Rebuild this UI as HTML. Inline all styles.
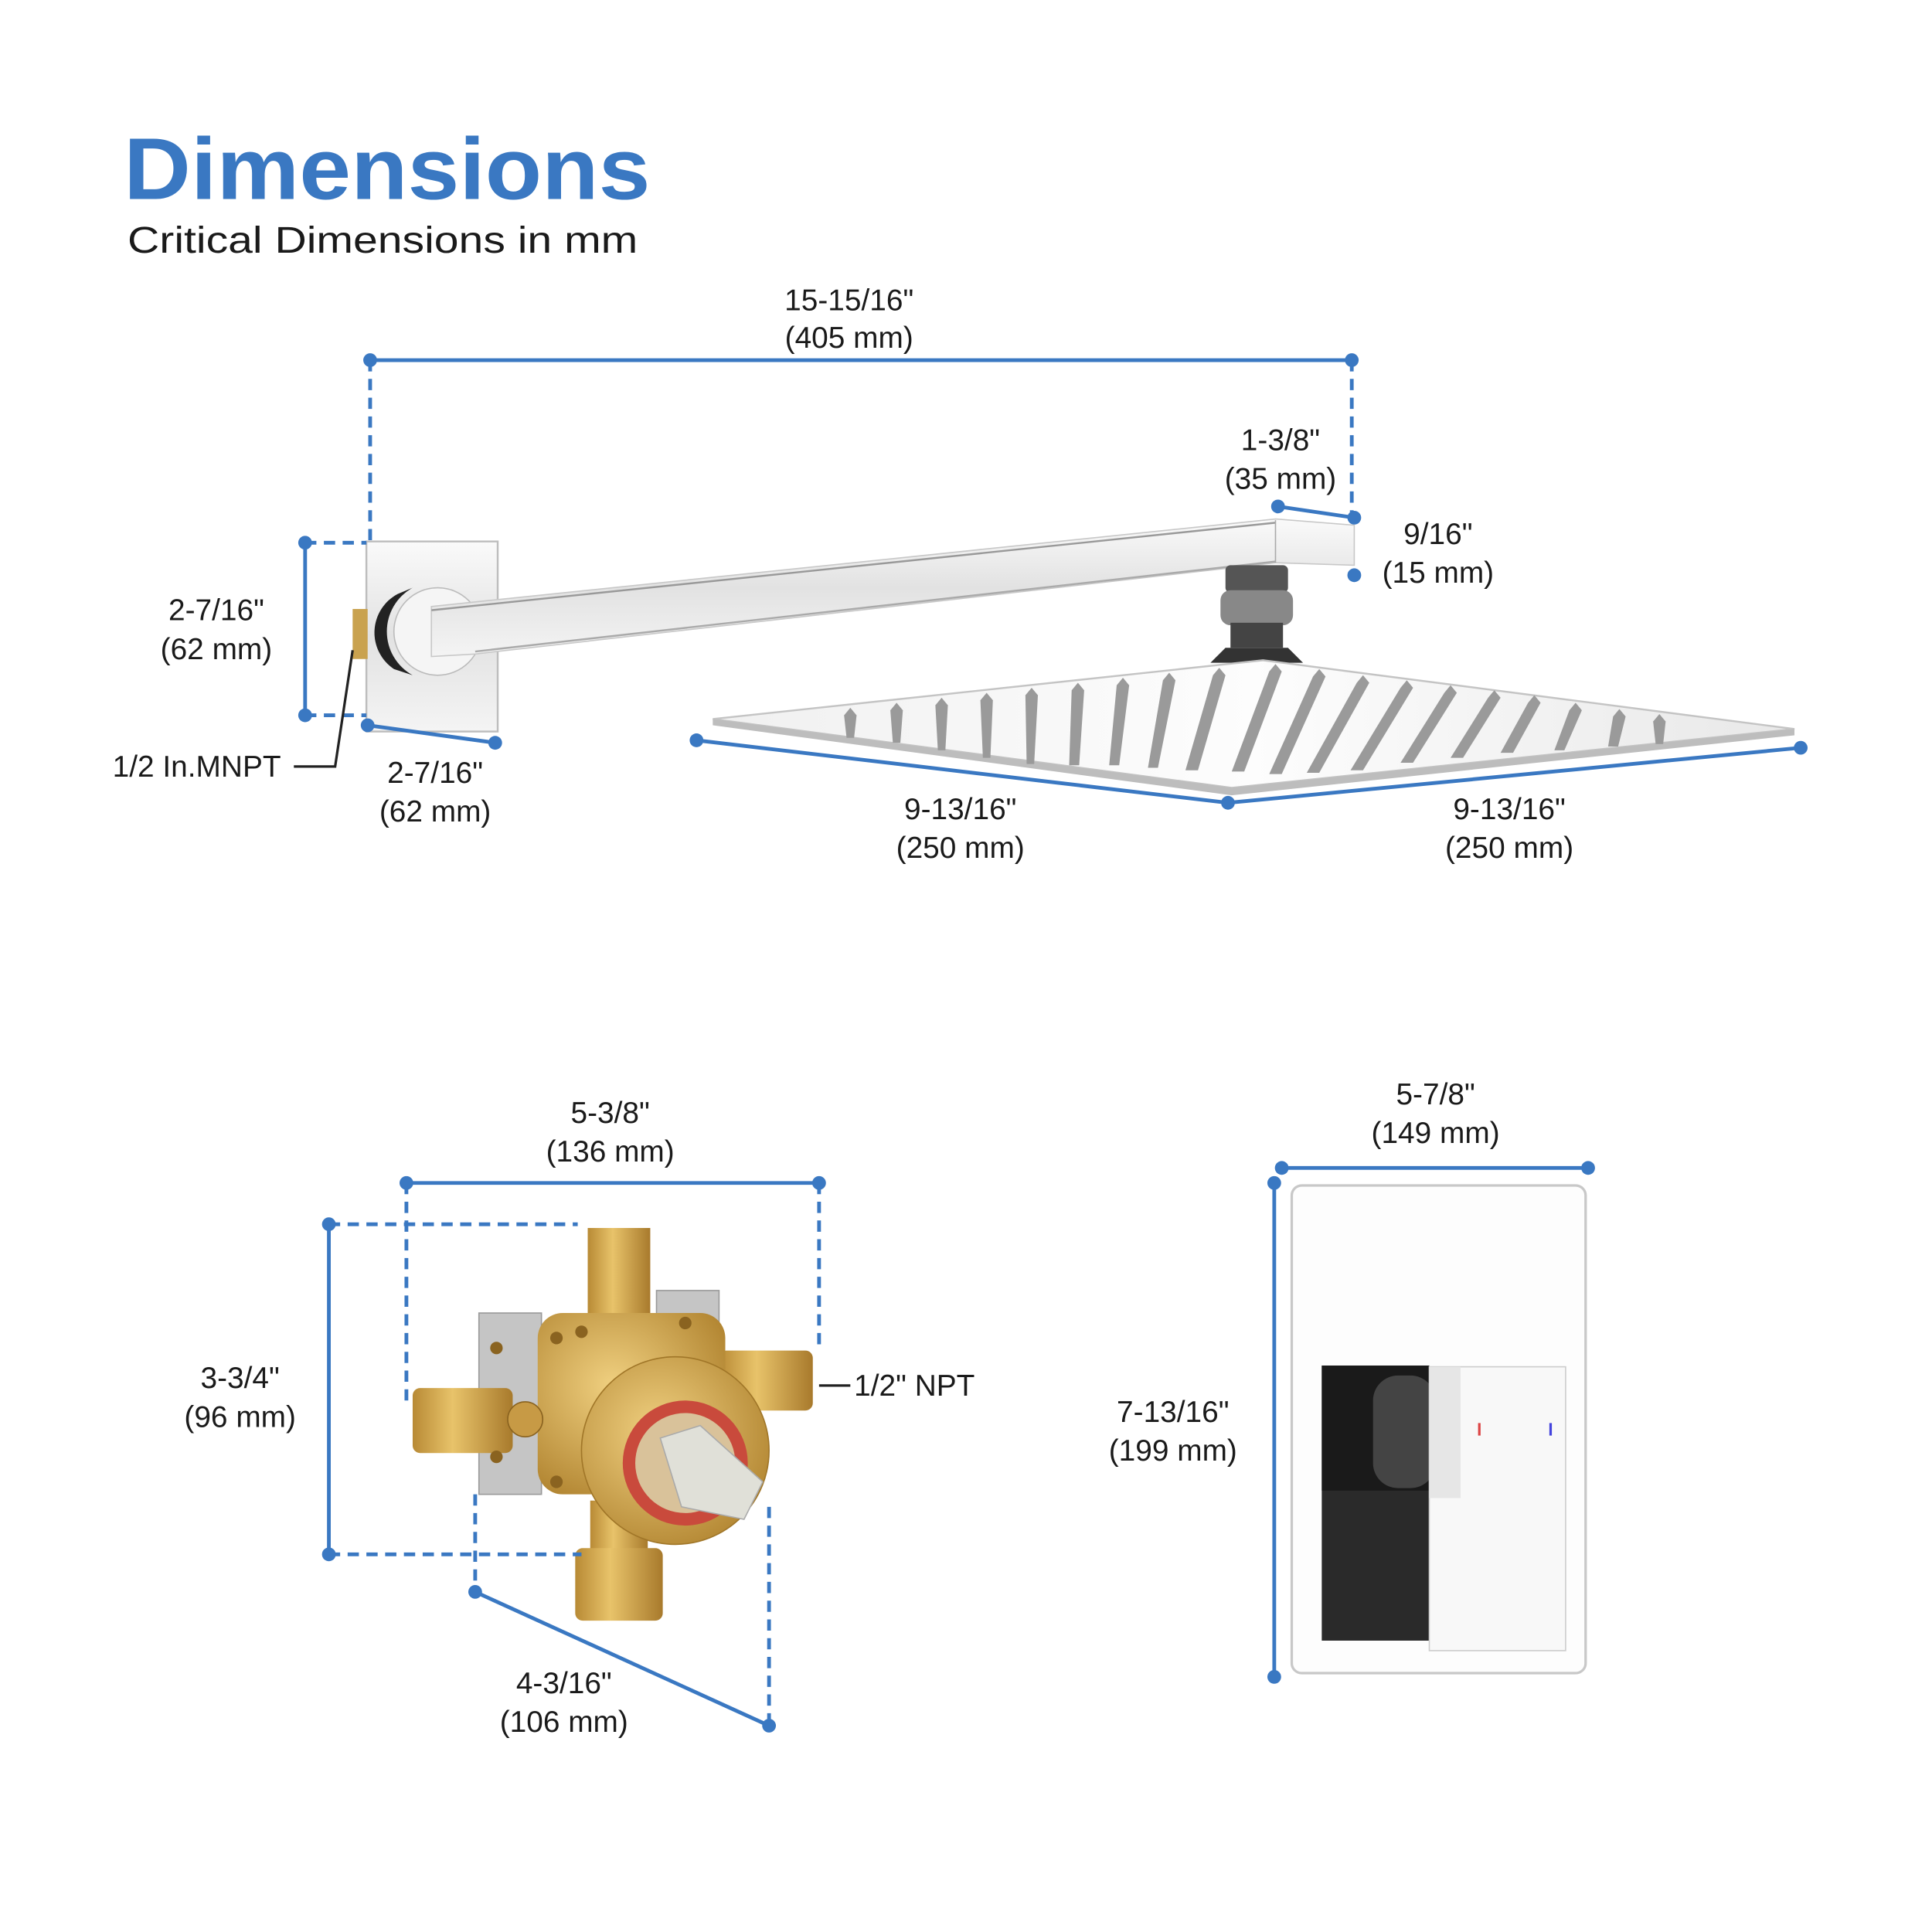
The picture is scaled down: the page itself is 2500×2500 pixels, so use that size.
<!DOCTYPE html>
<html><head><meta charset="utf-8"><style>
html,body{margin:0;padding:0;background:#fff;}
svg{display:block;}
text{font-family:"Liberation Sans",sans-serif;fill:#1a1a1a;}
</style></head><body>
<svg width="2500" height="2500" viewBox="0 0 1545 1545" xmlns="http://www.w3.org/2000/svg">
<defs>
<linearGradient id="chrome" x1="0" y1="0" x2="0" y2="1"><stop offset="0" stop-color="#fafafa"/><stop offset="0.5" stop-color="#e2e2e2"/><stop offset="1" stop-color="#f4f4f4"/></linearGradient>
<linearGradient id="head" x1="0" y1="0" x2="1" y2="0"><stop offset="0" stop-color="#f0f0f0"/><stop offset="0.5" stop-color="#fdfdfd"/><stop offset="1" stop-color="#e8e8e8"/></linearGradient>
<linearGradient id="brass" x1="0" y1="0" x2="1" y2="0"><stop offset="0" stop-color="#b88a35"/><stop offset="0.4" stop-color="#e8c36a"/><stop offset="1" stop-color="#a87a2c"/></linearGradient>
<radialGradient id="brassR" cx="0.4" cy="0.4" r="0.7"><stop offset="0" stop-color="#f0d080"/><stop offset="1" stop-color="#b0832f"/></radialGradient>
</defs>

<text x="99" y="159" font-size="70" font-weight="bold" textLength="421" lengthAdjust="spacingAndGlyphs" style="fill:#3a78c2">Dimensions</text>
<text x="102" y="202" font-size="30" textLength="408" lengthAdjust="spacingAndGlyphs">Critical Dimensions in mm</text>

<rect x="293" y="433" width="105" height="152" fill="url(#chrome)" stroke="#bdbdbd" stroke-width="1.5"/>
<circle cx="350" cy="505" r="35" fill="#f5f5f5" stroke="#bbb"/>
<path d="M330,470 A40,40 0 0 0 330,540 L315,535 A35,35 0 0 1 318,475 Z" fill="#222"/>
<rect x="282" y="487" width="12" height="40" fill="#c9a24f"/>
<polygon points="345,485 1020,415 1083,420 1083,452 1020,450 380,523 345,525" fill="url(#chrome)" stroke="#c8c8c8" stroke-width="1"/>
<line x1="345" y1="488" x2="1020" y2="418" stroke="#999" stroke-width="1.5"/>
<line x1="380" y1="521" x2="1020" y2="449" stroke="#aaa" stroke-width="1.5"/>
<line x1="1020" y1="416" x2="1020" y2="450" stroke="#aaa"/>
<rect x="980" y="452" width="50" height="22" rx="4" fill="#555"/>
<rect x="976" y="472" width="58" height="28" rx="8" fill="#888"/>
<rect x="984" y="498" width="42" height="20" fill="#444"/>
<polygon points="968,530 1042,530 1030,518 980,518" fill="#333"/>
<polygon points="570,575 1010,528 1435,583 985,630" fill="url(#head)" stroke="#c4c4c4" stroke-width="1.5"/>
<polygon points="570,575 985,630 1435,583 1435,588 985,636 570,580" fill="#bdbdbd"/>
<g fill="#9a9a9a">
<path d="M675,572 l5,-6 l5,6 l-2,18 h-6z"/>
<path d="M712,568 l5,-6 l5,6 l-2,26 h-6z"/>
<path d="M748,564 l5,-6 l5,6 l-2,36 h-6z"/>
<path d="M784,560 l5,-6 l5,6 l-2,46 h-6z"/>
<path d="M820,556 l5,-6 l5,6 l-3,55 h-6z"/>
<path d="M857,552 l5,-6 l5,6 l-4,60 h-8z"/>
<path d="M893,548 l5,-6 l5,6 l-8,64 h-8z"/>
<path d="M930,544 l5,-6 l5,6 l-14,70 h-8z"/>
<path d="M970,540 l5,-6 l5,6 l-22,76 h-10z"/>
<path d="M1015,537 l5,-6 l5,6 l-30,80 h-10z"/>
<path d="M1050,541 l5,-6 l5,6 l-35,78 h-10z"/>
<path d="M1085,546 l5,-6 l5,6 l-40,72 h-10z"/>
<path d="M1120,550 l5,-6 l5,6 l-40,66 h-10z"/>
<path d="M1155,554 l5,-6 l5,6 l-35,56 h-10z"/>
<path d="M1190,558 l5,-6 l5,6 l-30,48 h-10z"/>
<path d="M1222,562 l5,-6 l5,6 l-22,40 h-10z"/>
<path d="M1255,568 l5,-6 l5,6 l-14,32 h-8z"/>
<path d="M1290,573 l5,-6 l5,6 l-6,24 h-8z"/>
<path d="M1322,577 l5,-6 l5,6 l-2,18 h-6z"/>
</g>

<g stroke="#3a78c2" stroke-width="3" fill="none">
<line x1="296" y1="288" x2="1081" y2="288"/>
<line x1="296" y1="288" x2="296" y2="435" stroke-dasharray="9,6"/>
<line x1="1081" y1="288" x2="1081" y2="410" stroke-dasharray="9,6"/>
<line x1="244" y1="434" x2="244" y2="572"/>
<line x1="244" y1="434" x2="293" y2="434" stroke-dasharray="9,6"/>
<line x1="244" y1="572" x2="293" y2="572" stroke-dasharray="9,6"/>
<line x1="294" y1="580" x2="396" y2="594"/>
<line x1="1022" y1="405" x2="1083" y2="414"/>
<polyline points="557,592 982,642 1440,598"/>
</g>
<g fill="#3a78c2">
<circle cx="296" cy="288" r="5.5"/><circle cx="1081" cy="288" r="5.5"/>
<circle cx="244" cy="434" r="5.5"/><circle cx="244" cy="572" r="5.5"/>
<circle cx="294" cy="580" r="5.5"/><circle cx="396" cy="594" r="5.5"/>
<circle cx="1022" cy="405" r="5.5"/><circle cx="1083" cy="414" r="5.5"/><circle cx="1083" cy="460" r="5.5"/>
<circle cx="557" cy="592" r="5.5"/><circle cx="982" cy="642" r="5.5"/><circle cx="1440" cy="598" r="5.5"/>
</g>
<polyline points="235,613 268,613 282,520" stroke="#222" stroke-width="2" fill="none"/>
<g font-size="24" text-anchor="middle">
<text x="679" y="248">15-15/16"</text><text x="679" y="278">(405 mm)</text>
<text x="173" y="496">2-7/16"</text><text x="173" y="527">(62 mm)</text>
<text x="348" y="626">2-7/16"</text><text x="348" y="657">(62 mm)</text>
<text x="1024" y="360">1-3/8"</text><text x="1024" y="391">(35 mm)</text>
<text x="1150" y="435">9/16"</text><text x="1150" y="466">(15 mm)</text>
<text x="768" y="655">9-13/16"</text><text x="768" y="686">(250 mm)</text>
<text x="1207" y="655">9-13/16"</text><text x="1207" y="686">(250 mm)</text>
<text x="488" y="898">5-3/8"</text><text x="488" y="929">(136 mm)</text>
<text x="192" y="1110">3-3/4"</text><text x="192" y="1141">(96 mm)</text>
<text x="451" y="1354">4-3/16"</text><text x="451" y="1385">(106 mm)</text>
<text x="1148" y="883">5-7/8"</text><text x="1148" y="914">(149 mm)</text>
<text x="938" y="1137">7-13/16"</text><text x="938" y="1168">(199 mm)</text>
</g>
<text x="90" y="621" font-size="24">1/2 In.MNPT</text>

<rect x="383" y="1050" width="50" height="145" fill="#c5c5c5" stroke="#999"/>
<rect x="525" y="1032" width="50" height="100" fill="#c5c5c5" stroke="#999"/>
<rect x="470" y="982" width="50" height="80" fill="url(#brass)"/>
<rect x="330" y="1110" width="80" height="52" rx="6" fill="url(#brass)"/>
<rect x="575" y="1080" width="75" height="48" rx="6" fill="url(#brass)"/>
<rect x="430" y="1050" width="150" height="145" rx="20" fill="url(#brassR)"/>
<rect x="472" y="1200" width="46" height="40" fill="url(#brass)"/>
<rect x="460" y="1238" width="70" height="58" rx="6" fill="url(#brass)"/>
<circle cx="540" cy="1160" r="75" fill="url(#brassR)" stroke="#a07628"/>
<circle cx="548" cy="1170" r="50" fill="#c94a3c"/>
<circle cx="548" cy="1170" r="40" fill="#d9c29a"/>
<polygon points="528,1150 560,1140 610,1185 595,1215 545,1205" fill="#e0e0d8" stroke="#aaa"/>
<circle cx="420" cy="1135" r="14" fill="#c79a45" stroke="#8a6320"/>
<g fill="#8a6320"><circle cx="445" cy="1070" r="5"/><circle cx="465" cy="1065" r="5"/><circle cx="445" cy="1185" r="5"/><circle cx="548" cy="1058" r="5"/><circle cx="397" cy="1078" r="5"/><circle cx="397" cy="1165" r="5"/></g>

<g stroke="#3a78c2" stroke-width="3" fill="none">
<line x1="325" y1="946" x2="655" y2="946"/>
<line x1="325" y1="946" x2="325" y2="1120" stroke-dasharray="9,6"/>
<line x1="655" y1="946" x2="655" y2="1075" stroke-dasharray="9,6"/>
<line x1="263" y1="979" x2="263" y2="1243"/>
<line x1="263" y1="979" x2="462" y2="979" stroke-dasharray="9,6"/>
<line x1="263" y1="1243" x2="465" y2="1243" stroke-dasharray="9,6"/>
<line x1="380" y1="1195" x2="380" y2="1273" stroke-dasharray="9,6"/>
<line x1="615" y1="1205" x2="615" y2="1380" stroke-dasharray="9,6"/>
<line x1="380" y1="1273" x2="615" y2="1380"/>
<line x1="1025" y1="934" x2="1270" y2="934"/>
<line x1="1019" y1="946" x2="1019" y2="1341"/>
</g>
<g fill="#3a78c2">
<circle cx="325" cy="946" r="5.5"/><circle cx="655" cy="946" r="5.5"/>
<circle cx="263" cy="979" r="5.5"/><circle cx="263" cy="1243" r="5.5"/>
<circle cx="380" cy="1273" r="5.5"/><circle cx="615" cy="1380" r="5.5"/>
<circle cx="1025" cy="934" r="5.5"/><circle cx="1270" cy="934" r="5.5"/>
<circle cx="1019" cy="946" r="5.5"/><circle cx="1019" cy="1341" r="5.5"/>
</g>
<line x1="655" y1="1108" x2="680" y2="1108" stroke="#222" stroke-width="2"/>
<text x="683" y="1116" font-size="24">1/2" NPT</text>

<rect x="1033" y="948" width="235" height="390" rx="8" fill="#fdfdfd" stroke="#c8c8c8" stroke-width="2"/>
<rect x="1057" y="1092" width="86" height="220" fill="#2a2a2a"/>
<rect x="1057" y="1092" width="86" height="100" fill="#1a1a1a"/>
<rect x="1098" y="1100" width="50" height="90" rx="20" fill="#444"/>
<rect x="1143" y="1093" width="109" height="227" fill="#f8f8f8" stroke="#ccc"/>
<polygon points="1143,1093 1168,1093 1168,1198 1143,1198" fill="#e6e6e6"/>
<line x1="1183" y1="1138" x2="1183" y2="1148" stroke="#d44" stroke-width="2"/>
<line x1="1240" y1="1138" x2="1240" y2="1148" stroke="#44d" stroke-width="2"/>
</svg>
</body></html>
